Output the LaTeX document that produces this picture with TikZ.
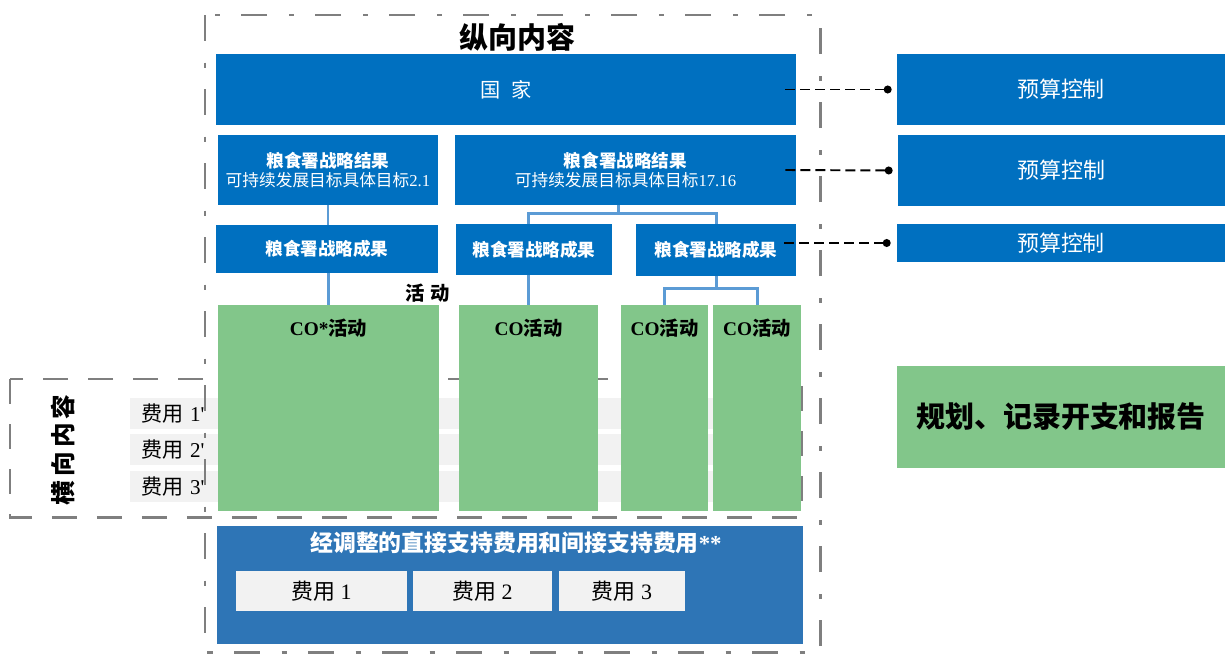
\documentclass[tikz,border=0pt]{standalone}
\usepackage{fontspec}
\setmainfont{Liberation Serif}
\newfontfamily\cjk{Noto Sans CJK SC}
\usetikzlibrary{positioning, arrows.meta}

\definecolor{wfpblue}{HTML}{0070C0}
\definecolor{costblue}{HTML}{2E75B6}
\definecolor{actgreen}{HTML}{82C68A}
\definecolor{linkblue}{HTML}{5B9BD5}
\definecolor{lightgray}{HTML}{F2F2F2}
\definecolor{framegray}{HTML}{7F7F7F}

\newcommand\zh[1]{{\cjk #1}}

\tikzset{
  box/.style={rectangle, inner sep=0pt, align=center},
  bluebox/.style={box, fill=wfpblue, text=white},
  greenbox/.style={box, fill=actgreen},
  graybox/.style={box, fill=lightgray, font=\fontsize{12.5}{14}\selectfont},
  band/.style={box, fill=lightgray, minimum width=13.4cm, minimum height=0.62cm,
               inner xsep=0.22cm, text width=12.96cm, align=left, font=\fontsize{12}{14}\selectfont},
  boldzh/.style={font=\cjk\bfseries\fontsize{10}{12}\selectfont},
  actlbl/.style={font=\bfseries\fontsize{11}{13}\selectfont, inner sep=1pt},
  link/.style={linkblue, line width=1.7pt},
  vframe/.style={framegray, line width=1.7pt, dash pattern=on 0.52cm off 0.43cm on 0.1cm off 0.43cm},
  hframe/.style={framegray, line width=1.7pt, dash pattern=on 0.5cm off 0.4cm},
  ctrl/.style={black, line width=1.1pt, dash pattern=on 0.2cm off 0.1cm, -{Circle[length=4.5pt]}}
}

\begin{document}
\begin{tikzpicture}
    \useasboundingbox (0,0) rectangle (24.5,-13.1);

    %% cost rows (behind everything)
    \node[band] (r1) at (9.3,-8.27) {\zh{费用} 1\textquotesingle};
    \node[band] (r2) at (9.3,-8.99) {\zh{费用} 2\textquotesingle};
    \node[band] (r3) at (9.3,-9.73) {\zh{费用} 3\textquotesingle};

    %% frames
    \draw[vframe] (4.1,-0.3) rectangle (16.4,-13.04);
    \draw[hframe] (0.2,-7.58) rectangle (16.02,-10.34);
    \node[font=\cjk\bfseries\fontsize{16.5}{18}\selectfont] (vtitle) at (10.34,-0.74) {纵向内容};
    \node[font=\cjk\bfseries\fontsize{14}{16}\selectfont, rotate=90] (htitle) at (1.26,-9.0) {横\,向\,内\,容};

    %% left column
    \node[bluebox, minimum width=11.6cm, minimum height=1.42cm, font=\cjk\fontsize{11.5}{14}\selectfont] (cty) at (10.12,-1.79) {国\hspace{0.5em}家};
    \node[bluebox, minimum width=4.4cm, minimum height=1.4cm] (so1) at (6.56,-3.4)
        {{\cjk\bfseries\fontsize{10}{12}\selectfont 粮食署战略结果}\\[-1pt]
         {\fontsize{9.5}{12}\selectfont\zh{可持续发展目标具体目标}2.1}};
    \node[bluebox, minimum width=6.82cm, minimum height=1.4cm] (so2) at (12.51,-3.4)
        {{\cjk\bfseries\fontsize{10}{12}\selectfont 粮食署战略结果}\\[-1pt]
         {\fontsize{9.5}{12}\selectfont\zh{可持续发展目标具体目标}17.16}};
    \node[bluebox, boldzh, minimum width=4.44cm, minimum height=0.96cm] (out1) at (6.54,-4.98) {粮食署战略成果};
    \node[bluebox, boldzh, minimum width=3.12cm, minimum height=1.02cm] (out2) at (10.68,-4.99) {粮食署战略成果};
    \node[bluebox, boldzh, minimum width=3.2cm, minimum height=1.04cm] (out3) at (14.32,-5.0) {粮食署战略成果};

    \node[font=\cjk\bfseries\fontsize{11}{13}\selectfont] (actword) at (8.56,-5.86) {活\hspace{0.3em}动};

    %% activities
    \node[greenbox, minimum width=4.42cm, minimum height=4.12cm] (act1) at (6.57,-8.16) {};
    \node[greenbox, minimum width=2.78cm, minimum height=4.12cm] (act2) at (10.57,-8.16) {};
    \node[greenbox, minimum width=1.74cm, minimum height=4.12cm] (act3) at (13.29,-8.16) {};
    \node[greenbox, minimum width=1.76cm, minimum height=4.12cm] (act4) at (15.14,-8.16) {};
    \node[actlbl, below=0.25cm of act1.north] (lbl1) {CO*\zh{活动}};
    \node[actlbl, below=0.25cm of act2.north] (lbl2) {CO\zh{活动}};
    \node[actlbl, below=0.25cm of act3.north] (lbl3) {CO\zh{活动}};
    \node[actlbl, below=0.25cm of act4.north] (lbl4) {CO\zh{活动}};

    %% links
    \draw[link] (so1.south) -- (so1.south |- out1.north);
    \draw[link] (out1.south -| act1.north) -- (act1.north);
    \draw[link] ([xshift=-0.14cm]so2.south) -- ++(0,-0.16) coordinate (bus1);
    \draw[link] (out2.north -| act2.north) |- (bus1) -| (out3.north);
    \draw[link] (out2.south -| act2.north) -- (act2.north);
    \draw[link] (out3.south) -- ++(0,-0.24) coordinate (bus2);
    \draw[link] (act3.north) |- (bus2) -| (act4.north);

    %% support costs
    \node[box, fill=costblue, minimum width=11.72cm, minimum height=2.36cm] (cost) at (10.2,-11.7) {};
    \node[font=\cjk\bfseries\fontsize{13}{15}\selectfont, text=white] (costtitle) at (10.32,-10.86) {经调整的直接支持费用和间接支持费用\rmfamily**};
    \node[graybox, minimum width=3.42cm, minimum height=0.8cm] (fee1) at (6.43,-11.82) {\zh{费用} 1};
    \node[graybox, minimum width=2.78cm, minimum height=0.8cm] (fee2) at (9.65,-11.82) {\zh{费用} 2};
    \node[graybox, minimum width=2.52cm, minimum height=0.8cm] (fee3) at (12.44,-11.82) {\zh{费用} 3};

    %% right column
    \node[bluebox, minimum width=6.56cm, minimum height=1.42cm, font=\cjk\fontsize{12.5}{14}\selectfont] (bud1) at (21.22,-1.79) {预算控制};
    \node[bluebox, minimum width=6.54cm, minimum height=1.42cm, font=\cjk\fontsize{12.5}{14}\selectfont] (bud2) at (21.23,-3.41) {预算控制};
    \node[bluebox, minimum width=6.56cm, minimum height=0.76cm, font=\cjk\fontsize{12.5}{14}\selectfont] (bud3) at (21.22,-4.86) {预算控制};
    \node[greenbox, minimum width=6.56cm, minimum height=2.04cm, font=\cjk\bfseries\fontsize{16.5}{18}\selectfont] (plan) at (21.22,-8.34) {规划、记录开支和报告};

    \coordinate[xshift=-0.1cm] (d1) at (bud1.west);
    \coordinate[xshift=-0.1cm] (d2) at (bud2.west);
    \coordinate[xshift=-0.12cm] (d3) at (bud3.west);
    \draw[ctrl] ([xshift=-0.22cm]cty.east) -- (d1);
    \draw[ctrl] ([xshift=-0.22cm]so2.east) -- (d2);
    \draw[ctrl] (d3 -| out3.east) ++(-0.24,0) -- (d3);
\end{tikzpicture}
\end{document}
